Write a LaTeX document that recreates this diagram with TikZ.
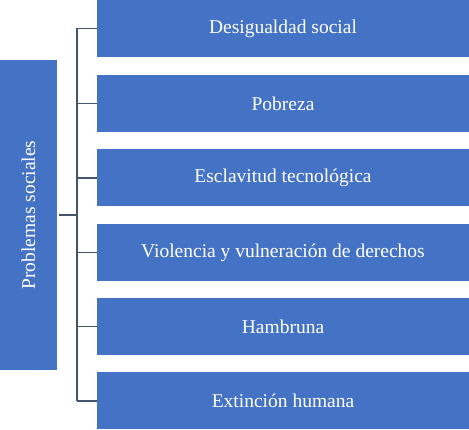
\documentclass[tikz,border=0pt]{standalone}
\usepackage{fontspec}
\setmainfont{Liberation Serif}
\definecolor{boxblue}{HTML}{4472C4}
\definecolor{linegray}{HTML}{44546A}
\begin{document}
\begin{tikzpicture}[x=1pt,y=-1pt,
  every node/.style={font=\fontsize{19.5}{22}\selectfont,text=white},
  item/.style={fill=boxblue,minimum width=372pt,minimum height=57pt,inner sep=0pt},
  link/.style={draw=linegray,line width=1.2pt}]
  \useasboundingbox (0,0) rectangle (469,430);
  \node[fill=boxblue,minimum width=57pt,minimum height=310pt,inner sep=0pt] (P) at (28.5,215)
    {};
  \node[rotate=90] at (P.center) {Problemas sociales};
  \node[item] (A) at (283,28.5) {Desigualdad social};
  \node[item] (B) at (283,103.5) {Pobreza};
  \node[item] (C) at (283,178) {Esclavitud tecnológica};
  \node[item] (D) at (283,252.5) {Violencia y vulneración de derechos};
  \node[item] (E) at (283,326.5) {Hambruna};
  \node[item] (F) at (283,401) {Extinción humana};
  \coordinate (J) at (77,215);
  \path[link] ([xshift=2pt]P.east) -- (J);
  \path[link] (J |- A) -- (J |- F);
  \foreach \n in {A,B,C,D,E,F}
    \path[link] (J |- \n) -- (\n.west);
\end{tikzpicture}
\end{document}
